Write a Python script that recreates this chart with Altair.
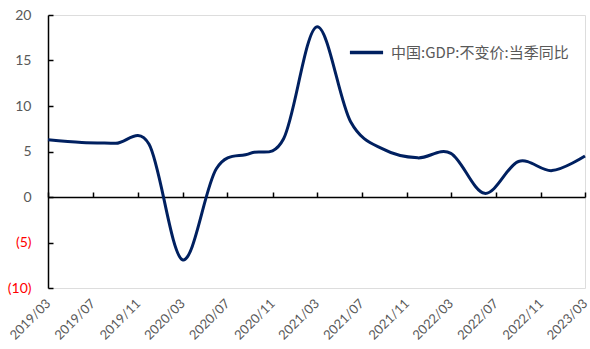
import altair as alt
import pandas as pd

quarters = ["2019-03", "2019-06", "2019-09", "2019-12",
            "2020-03", "2020-06", "2020-09", "2020-12",
            "2021-03", "2021-06", "2021-09", "2021-12",
            "2022-03", "2022-06", "2022-09", "2022-12",
            "2023-03"]
values = [6.3, 6.0, 5.9, 5.8,
          -6.9, 3.1, 4.8, 6.4,
          18.7, 8.3, 5.2, 4.3,
          4.8, 0.4, 3.9, 2.9,
          4.5]
series_name = "中国:GDP:不变价:当季同比"
tick_months = [(y, m) for y in range(2019, 2024) for m in (3, 7, 11)
               if (y, m) <= (2023, 3)]

df = pd.DataFrame({
    "date": pd.to_datetime([q + "-01" for q in quarters]),
    "value": values,
    "series": series_name,
})

W, H = 537, 273
tick_vals = [alt.DateTime(year=y, month=m, date=1) for y, m in tick_months]
xdomain = [alt.DateTime(year=2019, month=3, date=1),
           alt.DateTime(year=2023, month=3, date=1)]
xscale = alt.Scale(domain=xdomain, nice=False)
yscale = alt.Scale(domain=[-10, 20], nice=False)
LABEL_FONT = "Lato"
GRAY = "#595959"

line = alt.Chart(df).mark_line(interpolate="cardinal", strokeWidth=3).encode(
    x=alt.X("date:T", scale=xscale, title=None,
            axis=alt.Axis(values=tick_vals, format="%Y/%m", labelAngle=-45,
                          labelAlign="right", labelBaseline="middle",
                          labelPadding=13, domain=False, ticks=False, grid=False,
                          labelFont=LABEL_FONT, labelFontSize=13, labelColor=GRAY,
                          labelOverlap=False, labelBound=False, orient="bottom")),
    y=alt.Y("value:Q", scale=yscale, title=None,
            axis=alt.Axis(values=[-10, -5, 0, 5, 10, 15, 20], domain=False,
                          ticks=False, grid=False, labelPadding=17,
                          labelFont=LABEL_FONT, labelFontSize=14,
                          labelExpr="datum.value < 0 ? '(' + abs(datum.value) + ')' : datum.label",
                          labelColor=alt.condition("datum.value < 0", alt.value("#FF0000"), alt.value(GRAY)),
                          orient="left")),
    color=alt.Color("series:N", scale=alt.Scale(range=["#002060"]), title=None,
                    legend=alt.Legend(orient="none", legendX=300, legendY=19,
                                      symbolType="stroke", symbolSize=1100,
                                      symbolStrokeWidth=3.5, labelFontSize=15,
                                      labelFont="Noto Sans CJK SC", labelColor=GRAY,
                                      labelOffset=6, labelLimit=0)),
)

axes_layer = alt.Chart(df).mark_line(opacity=0).encode(
    x=alt.X("date:T", scale=xscale, title=None,
            axis=alt.Axis(values=tick_vals, labels=False, domain=True, ticks=True,
                          tickSize=5, tickColor="black", domainColor="black",
                          domainWidth=1.5, tickWidth=1.5, grid=False,
                          orient="top", offset=-182)),
    y=alt.Y("value:Q", scale=yscale, title=None,
            axis=alt.Axis(values=[-10, -5, 0, 5, 10, 15, 20], labels=False,
                          domain=True, ticks=True, tickSize=5, tickColor="black",
                          domainColor="black", domainWidth=1.5, tickWidth=1.5,
                          grid=False, orient="right", offset=-W)),
)

chart = alt.layer(line, axes_layer).resolve_axis(
    x="independent", y="independent"
).properties(
    width=W, height=H,
    autosize=alt.AutoSizeParams(type="none"),
    padding={"left": 48, "top": 15, "right": 5, "bottom": 61},
).configure_view(stroke=None).configure(background="white")

chart.save("out.html", embed_options={"renderer": "svg", "actions": False})
